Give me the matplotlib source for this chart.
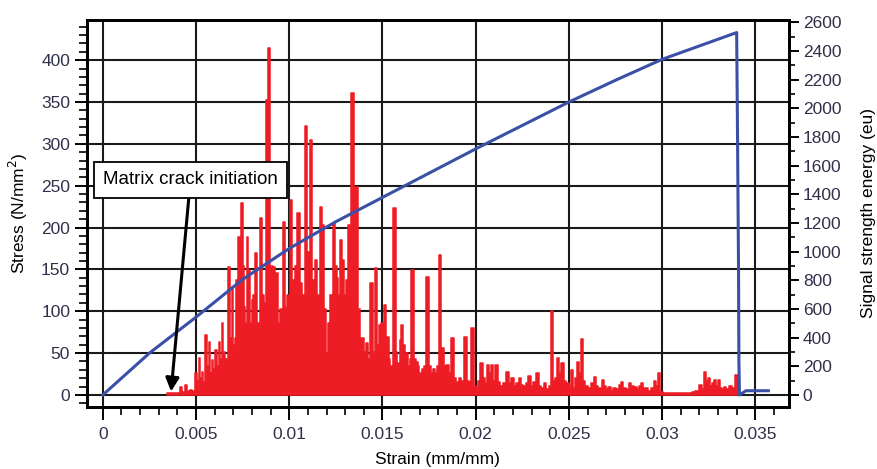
import matplotlib
matplotlib.use("Agg")
from matplotlib import pyplot as plt
from matplotlib import ticker as mticker

plt.rcParams["font.family"] = ["Liberation Sans", "DejaVu Sans"]

# stress-strain curve (left axis)
strain = [0.0, 0.001, 0.0025, 0.005, 0.0075, 0.01, 0.0125, 0.015, 0.0175, 0.02,
          0.0225, 0.025, 0.0275, 0.03, 0.0325, 0.034, 0.03405, 0.0341, 0.03412,
          0.03415, 0.0345, 0.0357]
stress = [0, 20, 50, 93, 138, 175, 207, 236, 265, 294,
          322, 350, 376, 401, 421, 433, 300, 150, 40,
          0, 5, 5]

# acoustic emission signal strength energy (right axis)
ae_strain = [
    0.00344, 0.00382, 0.00409, 0.00419, 0.00435, 0.00446, 0.00457, 0.00473, 0.00484, 0.00500,
    0.00511, 0.00516, 0.00527, 0.00532, 0.00543, 0.00554, 0.00565, 0.00570, 0.00581, 0.00586,
    0.00597, 0.00608, 0.00618, 0.00624, 0.00634, 0.00640, 0.00651, 0.00661, 0.00677, 0.00688,
    0.00694, 0.00704, 0.00710, 0.00720, 0.00731, 0.00737, 0.00747, 0.00753, 0.00758, 0.00769,
    0.00774, 0.00785, 0.00796, 0.00801, 0.00812, 0.00823, 0.00833, 0.00849, 0.00860, 0.00871,
    0.00882, 0.00892, 0.00903, 0.00919, 0.00930, 0.00946, 0.00957, 0.00973, 0.00984, 0.00995,
    0.01011, 0.01021, 0.01027, 0.01038, 0.01048, 0.01064, 0.01075, 0.01091, 0.01102, 0.01118,
    0.01129, 0.01134, 0.01145, 0.01156, 0.01172, 0.01183, 0.01193, 0.01204, 0.01215, 0.01226,
    0.01242, 0.01253, 0.01258, 0.01269, 0.01280, 0.01290, 0.01301, 0.01312, 0.01323, 0.01339,
    0.01355, 0.01366, 0.01376, 0.01382, 0.01392, 0.01409, 0.01419, 0.01430, 0.01441, 0.01452,
    0.01468, 0.01478, 0.01489, 0.01500, 0.01511, 0.01522, 0.01527, 0.01538, 0.01548, 0.01565,
    0.01575, 0.01586, 0.01597, 0.01607, 0.01618, 0.01629, 0.01640, 0.01650, 0.01661, 0.01672,
    0.01683, 0.01693, 0.01704, 0.01715, 0.01726, 0.01742, 0.01753, 0.01763, 0.01774, 0.01785,
    0.01796, 0.01806, 0.01817, 0.01822, 0.01833, 0.01849, 0.01860, 0.01876, 0.01887, 0.01903,
    0.01914, 0.01930, 0.01946, 0.01957, 0.01968, 0.01984, 0.01995, 0.02005, 0.02016, 0.02032,
    0.02043, 0.02054, 0.02064, 0.02075, 0.02086, 0.02097, 0.02113, 0.02124, 0.02140, 0.02150,
    0.02172, 0.02183, 0.02199, 0.02210, 0.02226, 0.02237, 0.02247, 0.02263, 0.02274, 0.02290,
    0.02301, 0.02317, 0.02333, 0.02344, 0.02360, 0.02371, 0.02387, 0.02398, 0.02408, 0.02419,
    0.02430, 0.02441, 0.02452, 0.02468, 0.02478, 0.02494, 0.02505, 0.02516, 0.02527, 0.02537,
    0.02548, 0.02559, 0.02570, 0.02580, 0.02591, 0.02613, 0.02629, 0.02640, 0.02650, 0.02667,
    0.02683, 0.02693, 0.02704, 0.02720, 0.02731, 0.02747, 0.02763, 0.02774, 0.02785, 0.02796,
    0.02812, 0.02828, 0.02839, 0.02855, 0.02871, 0.02882, 0.02892, 0.02903, 0.02919, 0.02935,
    0.02951, 0.02962, 0.02973, 0.02984, 0.02995, 0.03016, 0.03043, 0.03070, 0.03097, 0.03124,
    0.03151, 0.03167, 0.03188, 0.03204, 0.03220, 0.03231, 0.03242, 0.03247, 0.03263, 0.03274,
    0.03285, 0.03296, 0.03301, 0.03317, 0.03328, 0.03339, 0.03349, 0.03366, 0.03382, 0.03398,
    0.03409,
]
ae_energy = [
    12, 12, 15, 58, 20, 70, 25, 35, 30, 153,
    100, 258, 120, 160, 90, 418, 200, 372, 150, 244,
    180, 314, 200, 372, 250, 502, 300, 250, 894, 400,
    755, 350, 397, 801, 1103, 600, 1338, 900, 615, 500,
    1103, 871, 500, 662, 700, 990, 500, 1234, 700, 641,
    2056, 2418, 900, 894, 850, 502, 600, 1208, 615, 700,
    1359, 800, 746, 900, 1268, 780, 700, 1875, 1000, 1777,
    800, 720, 941, 700, 1312, 1185, 600, 293, 500, 700,
    1199, 900, 815, 700, 1080, 941, 700, 800, 1185, 2103,
    1443, 1452, 600, 397, 397, 300, 362, 250, 780, 300,
    885, 350, 488, 500, 627, 300, 404, 250, 200, 1303,
    300, 223, 383, 488, 350, 293, 200, 250, 871, 250,
    232, 200, 150, 180, 200, 825, 200, 150, 180, 150,
    200, 976, 300, 328, 200, 209, 150, 397, 120, 93,
    120, 100, 406, 100, 90, 467, 60, 50, 100, 223,
    120, 80, 209, 150, 209, 100, 209, 90, 60, 80,
    163, 80, 118, 60, 80, 118, 70, 60, 80, 132,
    60, 90, 153, 60, 50, 83, 40, 60, 585, 100,
    120, 258, 150, 225, 100, 80, 60, 174, 50, 120,
    232, 150, 390, 100, 60, 50, 80, 128, 60, 50,
    104, 60, 40, 58, 30, 49, 40, 70, 93, 50,
    40, 83, 60, 56, 40, 60, 83, 50, 49, 30,
    50, 97, 60, 153, 20, 10, 12, 10, 12, 10,
    12, 20, 30, 70, 40, 163, 100, 118, 60, 80,
    104, 60, 104, 50, 40, 56, 40, 63, 50, 139,
    139,
]

annot_text = "Matrix crack initiation"
annot_xy = (0.00366, 4)
annot_text_xy = (0.00470, 257)

fig = plt.figure(figsize=(8.77, 4.69), dpi=100)
ax = fig.add_axes([0.0990, 0.133, 0.8005, 0.824])
ax2 = ax.twinx()

red = "#ee1c24"
blue = "#3a4fa6"
label_col = "#30304a"

ax.set_xlim(-0.00086, 0.0368)
ax.set_ylim(-14, 447.8)
ax2.set_ylim(-14 * 2600 / 445.4, 447.8 * 2600 / 445.4)

# red AE fill sits in the left axes so the grid stays behind it; it uses the right-axis scale
ax.fill_between(ae_strain, ae_energy, step="mid", color=red, lw=1.1,
                edgecolor=red, transform=ax2.transData, zorder=2)
ax.plot(strain, stress, color=blue, lw=2.2, zorder=3)

ax.set_axisbelow(True)
ax.grid(True, which="major", color="#1a1a1a", lw=1.5)

ax.xaxis.set_major_locator(mticker.MultipleLocator(0.005))
ax.xaxis.set_minor_locator(mticker.MultipleLocator(0.001))
ax.xaxis.set_major_formatter(mticker.FuncFormatter(lambda v, p: "0" if abs(v) < 1e-9 else ("%g" % v)))
ax.yaxis.set_major_locator(mticker.MultipleLocator(50))
ax.yaxis.set_minor_locator(mticker.MultipleLocator(10))
ax2.yaxis.set_major_locator(mticker.MultipleLocator(200))
ax2.yaxis.set_minor_locator(mticker.MultipleLocator(100))

for a in (ax, ax2):
    for s in a.spines.values():
        s.set_linewidth(2.0)
        s.set_color("black")

ax.tick_params(axis="x", which="major", length=9, width=1.4, labelsize=12.5, pad=6,
               labelcolor=label_col)
ax.tick_params(axis="x", which="minor", length=6, width=1.2)
ax.tick_params(axis="y", which="major", length=9, width=1.4, labelsize=12.5, pad=3,
               labelcolor=label_col)
ax.tick_params(axis="y", which="minor", length=6, width=1.2)
ax2.tick_params(axis="y", which="major", length=7, width=1.4, labelsize=12.5, pad=3,
                labelcolor=label_col)
ax2.tick_params(axis="y", which="minor", length=4, width=1.2)

ax.set_xlabel("Strain (mm/mm)", fontsize=12.5, labelpad=7)
ax.set_ylabel("Stress (N/mm$^2$)", fontsize=12.5, labelpad=8)
ax2.set_ylabel("Signal strength energy (eu)", fontsize=12.5, labelpad=14)

ax.annotate(annot_text, xy=annot_xy, xytext=annot_text_xy, fontsize=13.5,
            ha="center", va="center", zorder=5,
            bbox=dict(boxstyle="square,pad=0.5", fc="white", ec="black", lw=1.3),
            arrowprops=dict(arrowstyle="-|>", color="black", lw=2.2,
                            mutation_scale=20, shrinkA=0, shrinkB=0))

fig.savefig("out.png", dpi=100)
